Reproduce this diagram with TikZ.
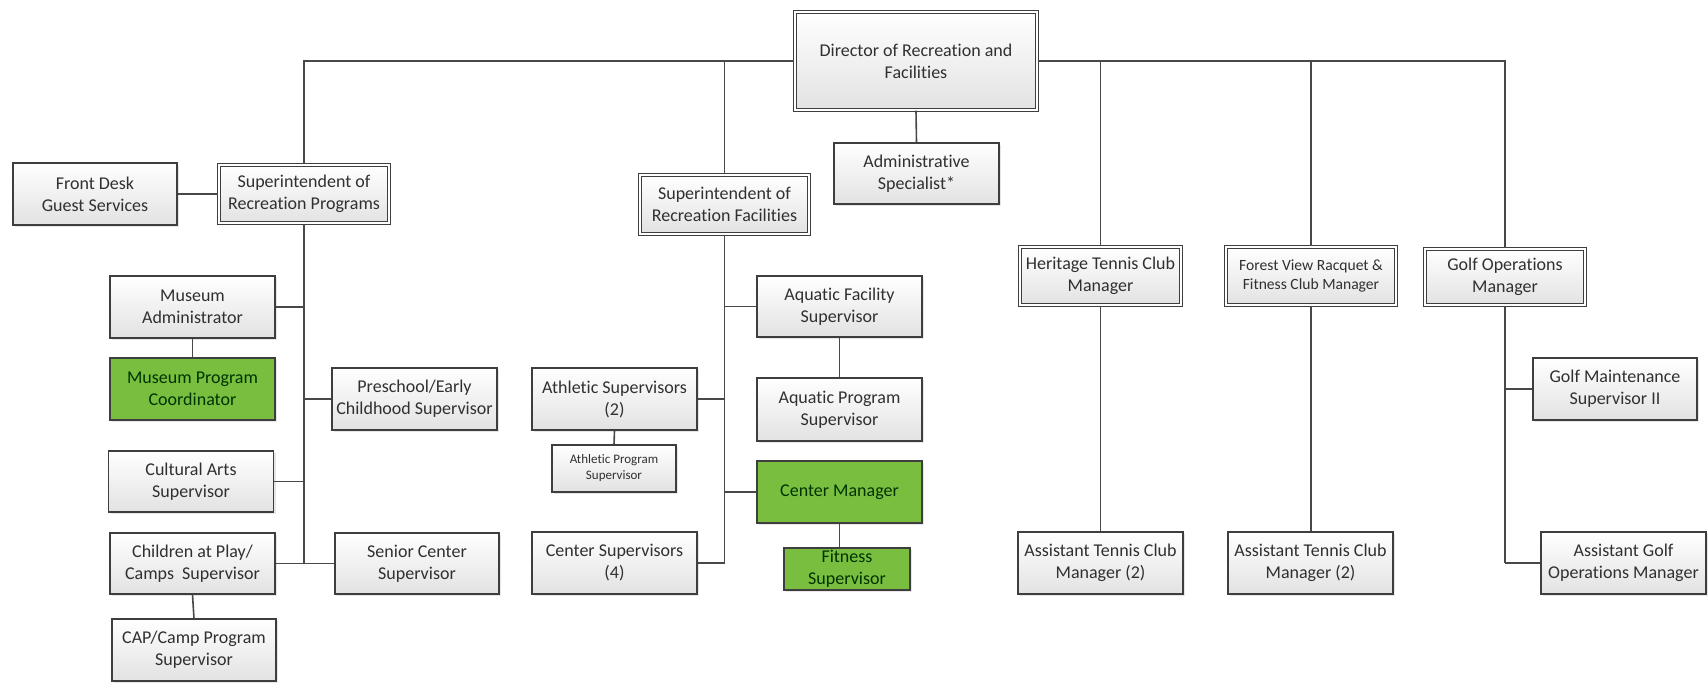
\documentclass[tikz,border=0pt]{standalone}
\usepackage{fontspec}
\setmainfont{Carlito}[Ligatures=NoCommon]
\usetikzlibrary{shadows}

\definecolor{boxline}{RGB}{62,62,62}
\definecolor{linkline}{RGB}{72,72,72}
\definecolor{txt}{RGB}{48,48,48}
\definecolor{leafgreen}{RGB}{122,190,64}
\definecolor{shadegray}{RGB}{226,226,226}

\tikzset{
  sz/.style 2 args={minimum width=#1*0.5pt, minimum height=#2*0.5pt},
  box/.style={draw=boxline, line width=0.6pt, top color=white, bottom color=shadegray,
    text=txt, align=center, inner sep=0pt, font=\fontsize{9}{11}\selectfont,
    drop shadow={shadow xshift=1.2pt, shadow yshift=-1.2pt, opacity=0.22, fill=black!45}},
  headbox/.style={box, line width=0.6pt, double=white, double distance=1.1pt},
  greenbox/.style={box, top color=leafgreen, bottom color=leafgreen, text=black!80!green},
  smalltext/.style={font=\fontsize{6.5}{8}\selectfont},
  midtext/.style={font=\fontsize{7.8}{9.6}\selectfont},
  link/.style={draw=linkline, line width=0.8pt}
}

\begin{document}
\begin{tikzpicture}[x=0.5pt, y=-0.5pt]
\useasboundingbox (0,0) rectangle (1708,682);

% top level
\node[headbox, sz={242}{98}] (dir) at (916,61) {Director of Recreation and\\Facilities};
\node[box, sz={165}{61}] (adm) at (916.5,173.5) {Administrative\\Specialist*};

% recreation programs branch
\node[headbox, sz={170}{58}] (srp) at (304,194) {Superintendent of\\Recreation Programs};
\node[box, sz={164}{62}] (fd) at (95,194) {Front Desk\\Guest Services};
\node[box, sz={165}{62}] (ma) at (192.5,307) {Museum\\Administrator};
\node[greenbox, sz={165}{62}] (mpc) at (192.5,389) {Museum Program\\Coordinator};
\node[box, sz={165}{62}] (pre) at (414.5,399) {Preschool/Early\\Childhood Supervisor};
\node[box, sz={165}{61}] (ca) at (191,481.5) {Cultural Arts\\Supervisor};
\node[box, sz={165}{61}] (cp) at (192.5,563.5) {Children at Play/\\Camps~ Supervisor};
\node[box, sz={164}{61}] (sen) at (417,563.5) {Senior Center\\Supervisor};
\node[box, sz={164}{62}] (cap) at (194,650) {CAP/Camp Program\\Supervisor};

% recreation facilities branch
\node[headbox, sz={169}{59}] (srf) at (724.5,204.5) {Superintendent of\\Recreation Facilities};
\node[box, sz={165}{61}] (aqf) at (839.5,306.5) {Aquatic Facility\\Supervisor};
\node[box, sz={165}{63}] (aqp) at (839.5,409.5) {Aquatic Program\\Supervisor};
\node[greenbox, sz={165}{62}] (cm) at (839.5,492) {Center Manager};
\node[greenbox, sz={126}{42}] (fit) at (847,569) {Fitness\\Supervisor};
\node[box, sz={165}{62}] (as) at (614.5,399) {Athletic Supervisors\\(2)};
\node[box, smalltext, sz={124}{47}] (ap) at (614,468.5) {Athletic Program\\Supervisor};
\node[box, sz={165}{62}] (cs) at (614.5,563) {Center Supervisors\\(4)};

% clubs and golf
\node[headbox, sz={161}{58}] (her) at (1100.5,276) {Heritage Tennis Club\\Manager};
\node[headbox, midtext, sz={170}{58}] (fv) at (1311,276) {Forest View Racquet \&\\Fitness Club Manager};
\node[headbox, sz={160}{56}] (go) at (1505,277) {Golf Operations\\Manager};
\node[box, sz={164}{62}] (gm) at (1615,389) {Golf Maintenance\\Supervisor II};
\node[box, sz={165}{62}] (at1) at (1100.5,563) {Assistant Tennis Club\\Manager (2)};
\node[box, sz={165}{62}] (at2) at (1310.5,563) {Assistant Tennis Club\\Manager (2)};
\node[box, sz={165}{62}] (ag) at (1623.5,563) {Assistant Golf\\Operations Manager};

% connectors from the director
\draw[link] (srp.north) |- (dir.west);
\draw[link] (dir.west) -| (srf.north);
\draw[link] (dir.east) -| (her.north);
\draw[link] (dir.east) -| (fv.north);
\draw[link] (dir.east) -| (go.north);
\draw[link] (dir.south) -- (adm.north);

% recreation programs
\draw[link] (fd.east) -- (srp.west);
\draw[link] (srp.south) -- (srp.south |- cp.east);
\draw[link] (ma.east) -- (ma.east -| srp.south);
\draw[link] (pre.west) -- (pre.west -| srp.south);
\draw[link] (ca.east) -- (ca.east -| srp.south);
\draw[link] (cp.east) -- (sen.west);
\draw[link] (ma.south) -- (mpc.north);
\draw[link] (cp.south) -- (cap.north);

% recreation facilities
\draw[link] (srf.south) -- (srf.south |- cs.east);
\draw[link] (aqf.west) -- (aqf.west -| srf.south);
\draw[link] (as.east) -- (as.east -| srf.south);
\draw[link] (cm.west) -- (cm.west -| srf.south);
\draw[link] (cs.east) -- (cs.east -| srf.south);
\draw[link] (aqf.south) -- (aqp.north);
\draw[link] (as.south) -- (ap.north);
\draw[link] (cm.south) -- (cm.south |- fit.north);

% clubs and golf
\draw[link] (her.south) -- (at1.north);
\draw[link] (fv.south) -- (fv.south |- at2.north);
\draw[link] (go.south) -- (go.south |- ag.west);
\draw[link] (gm.west) -- (gm.west -| go.south);
\draw[link] (ag.west) -- (ag.west -| go.south);
\end{tikzpicture}
\end{document}
